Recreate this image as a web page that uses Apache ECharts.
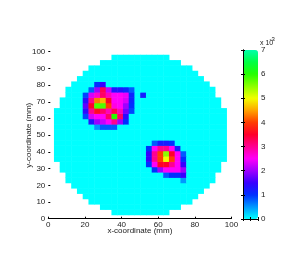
<!DOCTYPE html>
<html>
<head>
<meta charset="utf-8">
<title>heatmap</title>
<script src="https://cdn.jsdelivr.net/npm/echarts@6/dist/echarts.min.js"></script>
<style>
    html, body { margin: 0; padding: 0; background: #fff; }
    #chart { width: 297px; height: 269px; }
</style>
</head>
<body>
<div id="chart"></div>
<script>
    // 30 x 30 reconstruction grid, rows counted from the bottom
    var nCells = 30;
    // first / last column inside the circular domain for every row
    var rowStart = [10, 8, 6, 5, 4, 3, 2, 2, 1, 1, 0, 0, 0, 0, 0, 0, 0, 0, 0, 0, 1, 1, 2, 2, 3, 4, 5, 6, 8, 10];
    var rowEnd = [19, 21, 23, 24, 25, 26, 27, 27, 28, 28, 29, 29, 29, 29, 29, 29, 29, 29, 29, 29, 28, 28, 27, 27, 26, 25, 24, 23, 21, 19];

    // non-zero cells [col, row, value x 1e-3], everything else inside the circle is 0
    var hotCells = [
        // upper left blob
        [7, 24, 1.0], [8, 24, 1.5],
        [6, 23, 0.8], [7, 23, 2.0], [8, 23, 3.3], [9, 23, 2.2], [10, 23, 1.3], [11, 23, 1.3], [12, 23, 1.1], [13, 23, 0.8],
        [5, 22, 0.9], [6, 22, 2.3], [7, 22, 2.7], [8, 22, 3.2], [9, 22, 2.8], [10, 22, 2.5], [11, 22, 2.5], [12, 22, 2.4], [13, 22, 1.1],
        [5, 21, 1.4], [6, 21, 3.0], [7, 21, 4.3], [8, 21, 4.6], [9, 21, 3.5], [10, 21, 2.5], [11, 21, 2.5], [12, 21, 2.3], [13, 21, 1.1],
        [5, 20, 1.7], [6, 20, 3.5], [7, 20, 5.8], [8, 20, 5.8], [9, 20, 4.0], [10, 20, 2.6], [11, 20, 2.5], [12, 20, 2.0], [13, 20, 1.0],
        [5, 19, 1.4], [6, 19, 3.0], [7, 19, 3.6], [8, 19, 3.2], [9, 19, 2.8], [10, 19, 3.3], [11, 19, 2.8], [12, 19, 1.8], [13, 19, 0.9],
        [5, 18, 0.9], [6, 18, 2.3], [7, 18, 2.5], [8, 18, 2.5], [9, 18, 3.2], [10, 18, 6.0], [11, 18, 3.2], [12, 18, 1.4],
        [6, 17, 1.3], [7, 17, 2.0], [8, 17, 2.2], [9, 17, 2.5], [10, 17, 3.0], [11, 17, 2.0], [12, 17, 1.0],
        [7, 16, 0.5], [8, 16, 0.8], [9, 16, 0.8], [10, 16, 0.8],
        // isolated dot
        [15, 22, 1.2],
        // lower right blob
        [17, 13, 0.8], [18, 13, 1.2], [19, 13, 1.2], [20, 13, 1.0],
        [16, 12, 1.0], [17, 12, 2.5], [18, 12, 3.0], [19, 12, 3.0], [20, 12, 2.5], [21, 12, 1.2],
        [16, 11, 1.5], [17, 11, 3.0], [18, 11, 4.0], [19, 11, 5.5], [20, 11, 3.5], [21, 11, 2.5], [22, 11, 0.8],
        [16, 10, 1.5], [17, 10, 3.0], [18, 10, 4.0], [19, 10, 5.0], [20, 10, 4.0], [21, 10, 2.5], [22, 10, 1.0],
        [16, 9, 1.0], [17, 9, 2.5], [18, 9, 3.5], [19, 9, 3.5], [20, 9, 3.0], [21, 9, 2.5], [22, 9, 1.5],
        [17, 8, 1.0], [18, 8, 2.0], [19, 8, 2.5], [20, 8, 2.5], [21, 8, 2.5], [22, 8, 2.0],
        [19, 7, 0.8], [20, 7, 1.0], [21, 7, 1.0], [22, 7, 1.5],
        [22, 6, 0.5]
    ];

    // colour scale, flipped hsv as in the colorbar (0 .. 7 in steps of 0.5)
    var cmap = ['#00FFFF', '#0098FF', '#0030FF', '#3700FF', '#9E00FF', '#FF00F9', '#FF0091', '#FF002A',
        '#FF3D00', '#FFA400', '#F2FF00', '#8BFF00', '#24FF00', '#00FF44', '#00FFAB'];

    var font = 'Liberation Sans Narrow, Liberation Sans, Arial, sans-serif';
    var txt = '#222';

    var idx = [];
    for (var k = 0; k < nCells; k++) idx.push(String(k));

    var hotMap = {};
    hotCells.forEach(function(c) { hotMap[c[0] + '_' + c[1]] = c[2]; });
    var cells = [];
    for (var j = 0; j < nCells; j++) {
        for (var i = rowStart[j]; i <= rowEnd[j]; i++) {
            var v = hotMap[i + '_' + j];
            cells.push([i, j, v === undefined ? 0 : v]);
        }
    }

    var chart = echarts.init(document.getElementById('chart'));
    var option = {
        animation: false,
        textStyle: { fontFamily: font },
        grid: [
            { left: 48.3, top: 51.7, width: 183.2, height: 167 },
            { left: 54.2, top: 55, width: 172.5, height: 160 },
            { left: 243, top: 50, width: 15, height: 169 }
        ],
        visualMap: {
            type: 'continuous',
            min: 0,
            max: 7,
            seriesIndex: 0,
            dimension: 2,
            calculable: false,
            left: 243,
            top: 50,
            padding: 0,
            itemWidth: 15,
            itemHeight: 169,
            z: 1,
            inRange: { color: cmap }
        },
        xAxis: [{
            gridIndex: 0,
            type: 'value',
            min: 0,
            max: 100,
            interval: 20,
            axisLine: { lineStyle: { color: '#000', width: 1 } },
            axisTick: { inside: true, length: 2, lineStyle: { color: '#000' } },
            axisLabel: { fontSize: 8, color: txt, margin: 2 },
            splitLine: { show: false },
            name: 'x-coordinate (mm)',
            nameLocation: 'middle',
            nameGap: 8,
            nameMoveOverlap: false,
            nameTextStyle: { fontSize: 8, color: txt }
        }, {
            gridIndex: 1,
            type: 'category',
            data: idx,
            show: false
        }, {
            gridIndex: 2,
            type: 'value',
            min: 0,
            max: 1,
            interval: 0.5,
            z: 10,
            axisLine: { lineStyle: { color: '#000' } },
            axisTick: { inside: true, length: 2, lineStyle: { color: '#000' } },
            axisLabel: { show: false },
            splitLine: { show: false }
        }, {
            gridIndex: 2,
            type: 'value',
            position: 'top',
            min: 0,
            max: 1,
            interval: 0.5,
            z: 10,
            axisLine: { lineStyle: { color: '#000' } },
            axisTick: { inside: true, length: 2, lineStyle: { color: '#000' } },
            axisLabel: { show: false },
            splitLine: { show: false }
        }],
        yAxis: [{
            gridIndex: 0,
            type: 'value',
            min: 0,
            max: 100,
            interval: 10,
            axisLine: { show: false },
            axisTick: { show: true, inside: true, length: 2, lineStyle: { color: '#000' } },
            axisLabel: { fontSize: 8, color: txt, margin: 3 },
            splitLine: { show: false },
            name: 'y-coordinate (mm)',
            nameLocation: 'middle',
            nameGap: 16,
            nameRotate: 90,
            nameMoveOverlap: false,
            nameTextStyle: { fontSize: 8, color: txt }
        }, {
            gridIndex: 1,
            type: 'category',
            data: idx,
            show: false
        }, {
            gridIndex: 2,
            type: 'value',
            position: 'right',
            min: 0,
            max: 7,
            interval: 1,
            z: 10,
            axisLine: { show: true, lineStyle: { color: '#000' } },
            axisTick: { inside: true, length: 2, lineStyle: { color: '#000' } },
            axisLabel: { fontSize: 8, color: txt, margin: 3 },
            splitLine: { show: false }
        }, {
            gridIndex: 2,
            type: 'value',
            position: 'left',
            min: 0,
            max: 7,
            interval: 1,
            z: 10,
            axisLine: { show: true, lineStyle: { color: '#000' } },
            axisTick: { inside: true, length: 2, lineStyle: { color: '#000' } },
            axisLabel: { show: false },
            splitLine: { show: false }
        }],
        graphic: [
            { type: 'text', left: 260, top: 40, style: { text: 'x 10', fontSize: 7, fontFamily: font, fill: txt } },
            { type: 'text', left: 269.5, top: 36, style: { text: '-3', fontSize: 6, fontFamily: font, fill: txt } }
        ],
        series: [{
            type: 'heatmap',
            xAxisIndex: 1,
            yAxisIndex: 1,
            data: cells,
            itemStyle: { borderWidth: 0 },
            emphasis: { disabled: true }
        }]
    };
    chart.setOption(option);
</script>
</body>
</html>
